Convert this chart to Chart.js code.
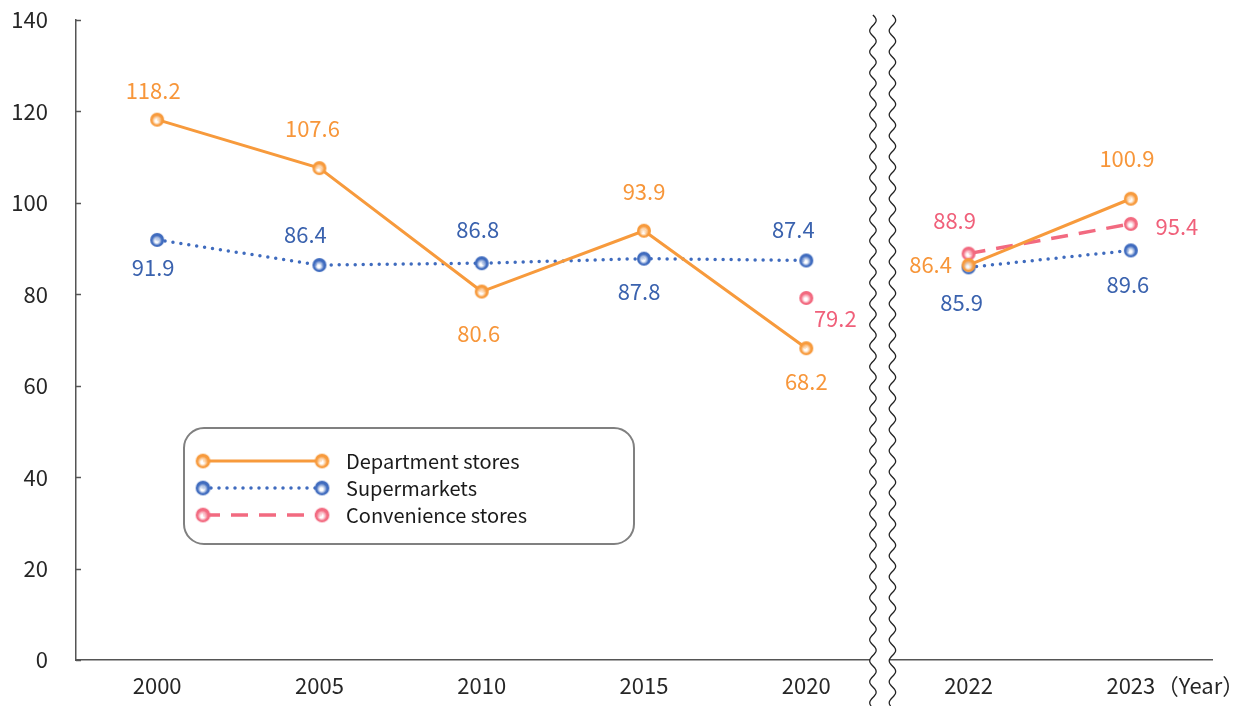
<!DOCTYPE html>
<html>
<head>
<meta charset="utf-8">
<script src="https://cdn.jsdelivr.net/npm/chart.js@4.4.1/dist/chart.umd.min.js"></script>
<style>
  html, body { margin: 0; padding: 0; background: #fff; }
  #wrap { width: 1252px; height: 706px; }
</style>
</head>
<body>
<div id="wrap"><canvas id="salesChart"></canvas></div>
<script>
// Data
const years = ['2000', '2005', '2010', '2015', '2020', '2022', '2023'];
const departmentStores = [118.2, 107.6, 80.6, 93.9, 68.2, 86.4, 100.9];
const supermarkets = [91.9, 86.4, 86.8, 87.8, 87.4, 85.9, 89.6];
const convenienceStores = [null, null, null, null, 79.2, 88.9, 95.4];
const yMin = 0, yMax = 140, yStep = 20;
const breakAfterIndex = 4; // axis break between 2020 and 2022

const FONT = '"Noto Sans CJK JP", "Noto Sans", sans-serif';
const COLORS = {
    dept: '#F79A3C',
    super: '#3F6BBE',
    conv: '#F26A80',
    deptText: '#F7963A',
    superText: '#3A62AE',
    convText: '#F0607A'
};

// Label offsets [dx, dy] from the point, one per data point
const deptLabelOffsets = [[-4, -29], [-7, -39], [-3, 42], [0, -39], [0, 33], [-38, 0], [-4, -40]];
const superLabelOffsets = [[-4, 28], [-14, -30], [-4, -34], [-5, 33], [-13, -31], [-7, 35], [-3, 34]];
const convLabelOffsets = [null, null, null, null, [29, 21], [-14, -33], [46, 3]];

// Shaded ball marker, drawn once to an offscreen canvas
function makeBall(color, r) {
    const size = Math.ceil(r * 2 + 2);
    const c = document.createElement('canvas');
    c.width = size; c.height = size;
    const g = c.getContext('2d');
    const cx = size / 2, cy = size / 2;
    const grad = g.createRadialGradient(cx - r * 0.1, cy + r * 0.25, 0, cx, cy, r);
    grad.addColorStop(0, 'rgba(255,255,255,1)');
    grad.addColorStop(0.2, 'rgba(255,255,255,0.75)');
    grad.addColorStop(0.7, color);
    grad.addColorStop(1, color);
    g.fillStyle = grad;
    g.beginPath();
    g.arc(cx, cy, r, 0, Math.PI * 2);
    g.fill();
    return c;
}

const deptBall = makeBall(COLORS.dept, 7);
const superBall = makeBall(COLORS.super, 7);
const convBall = makeBall(COLORS.conv, 7);

// Hide the segment that would cross the axis break
const hideBreak = ctx => ctx.p0DataIndex === breakAfterIndex ? 'rgba(0,0,0,0)' : undefined;

// Axis break, tick marks, value labels, legend box and the "(Year)" note
const decorPlugin = {
    id: 'decor',
    afterDatasetsDraw(chart) {
        const ctx = chart.ctx;
        const x = chart.scales.x;
        const yScale = chart.scales.y;
        const area = chart.chartArea;

        // small inward tick marks on the value axis
        ctx.save();
        ctx.strokeStyle = '#555';
        ctx.lineWidth = 1.5;
        for (let v = yMin; v <= yMax; v += yStep) {
            const py = Math.round(yScale.getPixelForValue(v)) + 0.5;
            ctx.beginPath();
            ctx.moveTo(area.left, py);
            ctx.lineTo(area.left + 5, py);
            ctx.stroke();
        }
        ctx.restore();

        const mid = (x.getPixelForTick(breakAfterIndex) + x.getPixelForTick(breakAfterIndex + 1)) / 2;
        const top = area.top - 5;
        const bottom = chart.height;
        const left = mid - 14.5, right = mid + 5;

        const wave = (cx, y) => cx + 3.2 * Math.sin((y - top) / 21 * Math.PI * 2);

        ctx.save();
        // white band
        ctx.beginPath();
        for (let y = top; y <= bottom; y += 1) ctx.lineTo(wave(left, y), y);
        for (let y = bottom; y >= top; y -= 1) ctx.lineTo(wave(right, y), y);
        ctx.closePath();
        ctx.fillStyle = '#ffffff';
        ctx.fill();
        // the two wavy lines
        ctx.strokeStyle = '#222';
        ctx.lineWidth = 1.3;
        [left, right].forEach(cx => {
            ctx.beginPath();
            for (let y = top; y <= bottom; y += 1) {
                if (y === top) ctx.moveTo(wave(cx, y), y);
                else ctx.lineTo(wave(cx, y), y);
            }
            ctx.stroke();
        });
        ctx.restore();

        // value labels
        const drawLabels = (dsIndex, values, offsets, color) => {
            const meta = chart.getDatasetMeta(dsIndex);
            ctx.save();
            ctx.font = '22px ' + FONT;
            ctx.fillStyle = color;
            ctx.textAlign = 'center';
            ctx.textBaseline = 'middle';
            values.forEach((v, i) => {
                if (v === null || !offsets[i]) return;
                const pt = meta.data[i];
                ctx.fillText(v.toFixed(1), pt.x + offsets[i][0], pt.y + offsets[i][1]);
            });
            ctx.restore();
        };
        drawLabels(0, departmentStores, deptLabelOffsets, COLORS.deptText);
        drawLabels(1, supermarkets, superLabelOffsets, COLORS.superText);
        drawLabels(2, convenienceStores, convLabelOffsets, COLORS.convText);

        // "(Year)" after the last category label
        ctx.save();
        ctx.font = '22px ' + FONT;
        ctx.fillStyle = '#262626';
        ctx.textAlign = 'left';
        ctx.textBaseline = 'middle';
        ctx.fillText('（Year）', x.getPixelForTick(years.length - 1) + 26, 686);
        ctx.restore();

        // legend box
        ctx.save();
        const bx = 184, by = 428, bw = 450, bh = 116, br = 20;
        ctx.beginPath();
        ctx.roundRect(bx, by, bw, bh, br);
        ctx.fillStyle = '#fff';
        ctx.fill();
        ctx.strokeStyle = '#808080';
        ctx.lineWidth = 2;
        ctx.stroke();

        const rows = [
            { label: 'Department stores', color: COLORS.dept, dash: [], cap: 'butt', width: 3, ball: deptBall },
            { label: 'Supermarkets', color: COLORS.super, dash: [0, 8], cap: 'round', width: 3.5, ball: superBall },
            { label: 'Convenience stores', color: COLORS.conv, dash: [17, 11], cap: 'butt', width: 3.5, ball: convBall }
        ];
        rows.forEach((row, i) => {
            const y = 461 + i * 27;
            ctx.beginPath();
            ctx.setLineDash(row.dash);
            ctx.lineCap = row.cap;
            ctx.lineWidth = row.width;
            ctx.strokeStyle = row.color;
            ctx.moveTo(203, y);
            ctx.lineTo(322, y);
            ctx.stroke();
            ctx.setLineDash([]);
            const s = row.ball.width * 1.05;
            ctx.drawImage(row.ball, 203 - s / 2, y - s / 2, s, s);
            ctx.drawImage(row.ball, 322 - s / 2, y - s / 2, s, s);
            ctx.font = '20px ' + FONT;
            ctx.fillStyle = '#1a1a1a';
            ctx.textAlign = 'left';
            ctx.textBaseline = 'middle';
            ctx.fillText(row.label, 346, y);
        });
        ctx.restore();
    }
};

new Chart(document.getElementById('salesChart'), {
    type: 'line',
    data: {
        labels: years,
        datasets: [
            {
                label: 'Department stores',
                data: departmentStores,
                borderColor: COLORS.dept,
                borderWidth: 3,
                pointStyle: deptBall,
                segment: { borderColor: hideBreak },
                tension: 0
            },
            {
                label: 'Supermarkets',
                data: supermarkets,
                borderColor: COLORS.super,
                borderWidth: 3.5,
                borderDash: [0, 8],
                borderCapStyle: 'round',
                pointStyle: superBall,
                segment: { borderColor: hideBreak },
                tension: 0
            },
            {
                label: 'Convenience stores',
                data: convenienceStores,
                borderColor: COLORS.conv,
                borderWidth: 3.5,
                borderDash: [17, 11],
                pointStyle: convBall,
                spanGaps: false,
                segment: { borderColor: hideBreak },
                tension: 0
            }
        ]
    },
    options: {
        responsive: true,
        maintainAspectRatio: false,
        animation: false,
        layout: { autoPadding: false, padding: { left: 0, right: 40, top: 20, bottom: 0 } },
        plugins: {
            legend: { display: false },
            tooltip: { enabled: false }
        },
        scales: {
            x: {
                type: 'category',
                offset: true,
                grid: { display: false, drawTicks: false },
                border: { display: true, color: '#555', width: 1.5 },
                ticks: {
                    color: '#262626',
                    font: { family: FONT, size: 22 },
                    padding: 12,
                    maxRotation: 0
                },
                afterFit(scale) {
                    scale.height = 46;
                    scale.paddingLeft = 0;
                    scale.paddingRight = 0;
                }
            },
            y: {
                min: yMin,
                max: yMax,
                grid: { display: false, drawTicks: false },
                border: { display: true, color: '#555', width: 1.5 },
                ticks: {
                    stepSize: yStep,
                    color: '#262626',
                    font: { family: FONT, size: 22 },
                    padding: 28
                },
                afterFit(scale) {
                    scale.width = 76;
                    scale.paddingTop = 0;
                    scale.paddingBottom = 0;
                }
            }
        }
    },
    plugins: [decorPlugin]
});
</script>
</body>
</html>
